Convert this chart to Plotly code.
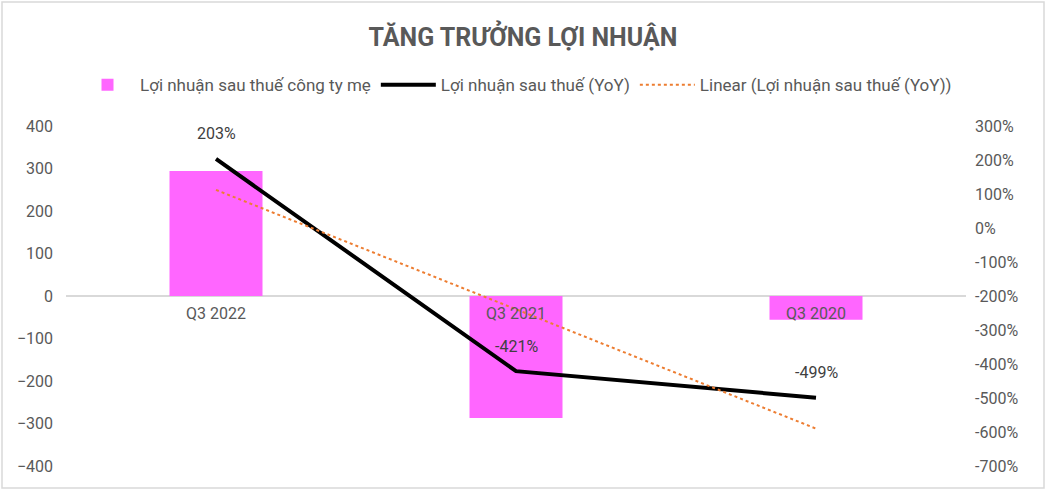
import plotly.graph_objects as go

# data
quarters = ["Q3 2022", "Q3 2021", "Q3 2020"]
profit_parent = [294, -287, -56]          # Lợi nhuận sau thuế công ty mẹ
profit_yoy = [203, -421, -499]            # Lợi nhuận sau thuế (YoY), %
profit_yoy_trend = [112, -239, -590]      # Linear trendline, %
left_ticks = [400, 300, 200, 100, 0, -100, -200, -300, -400]
right_ticks = [300, 200, 100, 0, -100, -200, -300, -400, -500, -600, -700]

FONT = "Liberation Sans Narrow, Roboto, sans-serif"
GRAY = "#595959"

fig = go.Figure()

fig.add_trace(
    go.Bar(
        x=quarters,
        y=profit_parent,
        name="Lợi nhuận sau thuế công ty mẹ",
        marker=dict(color="#FF66FF", line=dict(width=0)),
    )
)

fig.add_trace(
    go.Scatter(
        x=quarters,
        y=profit_yoy,
        name="Lợi nhuận sau thuế (YoY)",
        mode="lines",
        line=dict(color="black", width=4),
        yaxis="y2",
    )
)

fig.add_trace(
    go.Scatter(
        x=quarters,
        y=profit_yoy_trend,
        name="Linear (Lợi nhuận sau thuế (YoY))",
        mode="lines",
        line=dict(color="#ED7D31", width=2, dash="dot"),
        yaxis="y2",
    )
)

# data labels above the YoY line points
for q, v in zip(quarters, profit_yoy):
    fig.add_annotation(
        x=q,
        y=v,
        xref="x",
        yref="y2",
        text=f"{v}%",
        showarrow=False,
        yshift=25,
        font=dict(size=16, color="#404040", family=FONT),
    )

fig.update_layout(
    width=1046,
    height=490,
    margin=dict(l=66, r=80, t=126, b=24, autoexpand=False),
    paper_bgcolor="white",
    plot_bgcolor="white",
    font=dict(family=FONT, size=16, color=GRAY),
    title=dict(
        text="<b>TĂNG TRƯỞNG LỢI NHUẬN</b>",
        x=0.5,
        xanchor="center",
        y=0.925,
        yanchor="middle",
        font=dict(size=25, color=GRAY, family=FONT),
    ),
    legend=dict(
        orientation="h",
        x=0.5,
        xanchor="center",
        y=1.12,
        yanchor="middle",
        font=dict(size=17, color=GRAY),
        traceorder="normal",
        itemwidth=55,
    ),
    bargap=0.69,
    xaxis=dict(
        anchor="free",
        position=0.5,
        showline=False,
        showgrid=False,
        ticks="",
        automargin=False,
        tickfont=dict(size=16, color=GRAY),
        ticklabelstandoff=6,
    ),
    yaxis=dict(
        range=[-400, 400],
        tickvals=left_ticks,
        showgrid=False,
        zeroline=True,
        zerolinecolor="#D9D9D9",
        zerolinewidth=1.5,
        showline=False,
        ticks="",
        automargin=False,
        tickfont=dict(size=16, color=GRAY),
        ticklabelstandoff=12,
    ),
    yaxis2=dict(
        range=[-700, 300],
        tickvals=right_ticks,
        ticktext=[f"{v}%" for v in right_ticks],
        overlaying="y",
        side="right",
        showgrid=False,
        zeroline=False,
        showline=False,
        ticks="",
        automargin=False,
        tickfont=dict(size=16, color=GRAY),
        ticklabelstandoff=8,
    ),
)

# light gray border around the chart area
fig.add_shape(
    type="rect",
    xref="paper",
    yref="paper",
    x0=-64 / 900,
    x1=1 + 78 / 900,
    y0=-22 / 340,
    y1=1 + 124 / 340,
    line=dict(color="#D9D9D9", width=1.5),
    layer="above",
)

# drop the default page margin so the figure sits at the window corner
fig.write_html(
    "out.html",
    config={"displayModeBar": False},
    post_script="document.body.style.margin='0';",
)
